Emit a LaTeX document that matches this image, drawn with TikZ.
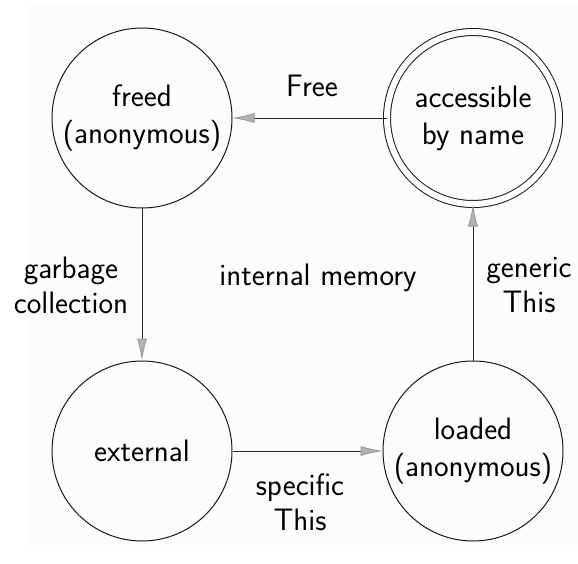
\documentclass[tikz,border=0pt]{standalone}
\usetikzlibrary{arrows.meta}
\begin{document}
\begin{tikzpicture}[x=1pt,y=-1pt,
  state/.style={circle,draw=black!90,line width=1pt,minimum size=180pt,inner sep=0pt,
    align=center,font=\sffamily\fontsize{31}{37}\selectfont},
  lbl/.style={align=center,font=\sffamily\fontsize{31}{35}\selectfont},
  trans/.style={draw=black!85,line width=0.8pt,
    -{Latex[length=22pt,width=10pt,color=gray!80,fill=gray!60]}}]
  % page and faint backdrop
  \useasboundingbox (0,0) rectangle (578,564);
  \fill[black!1.2] (27,5) rectangle (578,545);
  % states
  \node[state] (freed) at (142,118) {freed\\(anonymous)};
  \node[state,double=white,double distance=6pt,minimum size=172pt] (acc) at (473,118) {accessible\\by name};
  \node[state] (ext) at (142,451) {external};
  \node[state] (load) at (473,451) {loaded\\(anonymous)};
  % transitions
  \draw[trans] (acc) -- (freed);
  \draw[trans] (freed) -- (ext);
  \draw[trans] (ext) -- (load);
  \draw[trans] (load) -- (acc);
  % labels
  \node[lbl] (lfree) at (312,86) {Free};
  \node[lbl] (lgc) at (71,285) {garbage\\collection};
  \node[lbl] (lint) at (318,278) {internal memory};
  \node[lbl] (lgen) at (529,285) {generic\\This};
  \node[lbl] (lspec) at (300,502) {specific\\This};
\end{tikzpicture}
\end{document}
